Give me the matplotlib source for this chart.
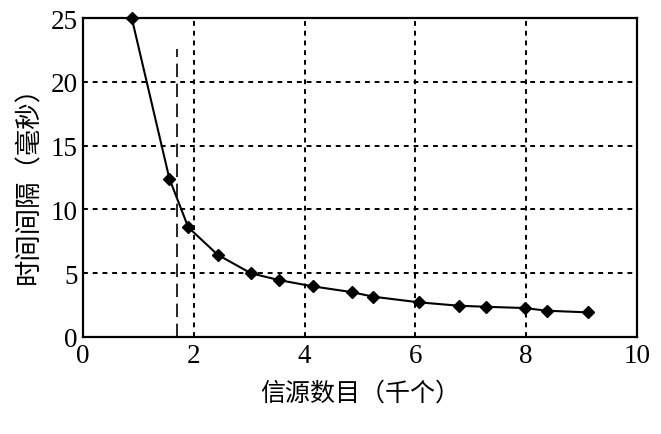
import matplotlib
matplotlib.use("Agg")
import matplotlib.pyplot as plt

plt.rcParams['font.family'] = ['Noto Sans CJK SC', 'DejaVu Sans']

sources = [0.88, 1.56, 1.90, 2.43, 3.03, 3.53, 4.15, 4.85, 5.24, 6.06, 6.79, 7.27, 7.98, 8.37, 9.12]
interval = [25.0, 12.4, 8.6, 6.45, 5.0, 4.47, 3.97, 3.52, 3.16, 2.72, 2.45, 2.37, 2.27, 2.06, 1.93]
cutoff_x = 1.70
cutoff_top = 22.6

fig = plt.figure(figsize=(6.61, 4.35), dpi=100)
ax = fig.add_axes([0.1256, 0.223, 0.838, 0.733])

ax.plot(sources, interval, color="black", linewidth=1.5, marker="D", markersize=6.5, clip_on=False, zorder=5)
ax.plot([cutoff_x, cutoff_x], [0, cutoff_top], color="black", linewidth=1.2, dashes=(8, 4), zorder=4)

ax.set_xlim(0, 10)
ax.set_ylim(0, 25)
ax.set_xticks([0, 2, 4, 6, 8, 10])
ax.set_yticks([0, 5, 10, 15, 20, 25])
ax.grid(True, color="black", linestyle=(0, (2.5, 2.5)), linewidth=1.4)
ax.tick_params(length=0, labelsize=19.5, pad=4)
for lab in ax.get_xticklabels() + ax.get_yticklabels():
    lab.set_family("Liberation Serif")
for sp in ax.spines.values():
    sp.set_linewidth(1.6)

ax.set_xlabel("信源数目（千个）", fontsize=18, labelpad=9)
ax.set_ylabel("时间间隔（毫秒）", fontsize=19, labelpad=6)

fig.savefig("out.png", dpi=100)
